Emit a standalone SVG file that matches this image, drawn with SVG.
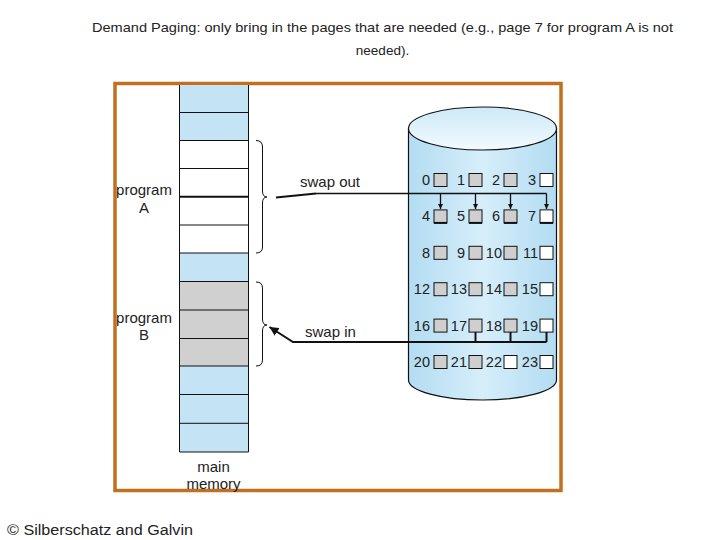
<svg xmlns="http://www.w3.org/2000/svg" width="720" height="540" viewBox="0 0 720 540">
<defs>
<style>
.t{font-family:"Liberation Sans",Arial,sans-serif;font-size:15px;fill:#222}
.n{font-family:"Liberation Sans",Arial,sans-serif;font-size:14.5px;fill:#222;text-anchor:end}
.g{fill:#cfcfcf;stroke:#111;stroke-width:1}
.w{fill:#fff;stroke:#111;stroke-width:1}
.ln{fill:none;stroke:#111}
.mem{stroke:#111;stroke-width:1}
</style>
<linearGradient id="cyl" x1="0" y1="0" x2="1" y2="0">
<stop offset="0" stop-color="#b3dcf2"/>
<stop offset="0.5" stop-color="#d6eefa"/>
<stop offset="1" stop-color="#b3dcf2"/>
</linearGradient>
<linearGradient id="top" x1="0" y1="0" x2="0" y2="1">
<stop offset="0" stop-color="#cde9f8"/>
<stop offset="1" stop-color="#f2fafe"/>
</linearGradient>
<marker id="ah" viewBox="0 0 10 10" refX="10" refY="5" markerWidth="5" markerHeight="5" orient="auto" markerUnits="userSpaceOnUse">
<path d="M0,0 L10,5 L0,10 z" fill="#111"/>
</marker>
<marker id="ah2" viewBox="0 0 10 10" refX="10" refY="5" markerWidth="4.5" markerHeight="4.5" orient="auto">
<path d="M0,0 L10,5 L0,10 z" fill="#111"/>
</marker>
</defs>

<g id="title">
<text class="t" x="382.5" y="32" text-anchor="middle" style="font-size:13.5px" textLength="581" lengthAdjust="spacingAndGlyphs">Demand Paging: only bring in the pages that are needed (e.g., page 7 for program A is not</text>
<text class="t" x="382.5" y="55" text-anchor="middle" style="font-size:13.5px">needed).</text>
</g>

<g id="frame">
<rect x="115" y="83.5" width="446" height="407" fill="#fff" stroke="#c0701f" stroke-width="3.5"/>
</g>

<g id="main-memory">
<rect x="179.5" y="85" width="69" height="55.5" fill="#c4e4f6"/>
<rect x="179.5" y="140.5" width="69" height="112.5" fill="#fff"/>
<rect x="179.5" y="253" width="69" height="28.5" fill="#c4e4f6"/>
<rect x="179.5" y="281.5" width="69" height="84.5" fill="#d0d0d0"/>
<rect x="179.5" y="366" width="69" height="86" fill="#c4e4f6"/>
<line class="mem" x1="179.5" y1="85" x2="179.5" y2="452"/>
<line class="mem" x1="248.5" y1="85" x2="248.5" y2="452"/>
<g class="mem">
<line x1="179.5" y1="112.5" x2="248.5" y2="112.5"/>
<line x1="179.5" y1="140.5" x2="248.5" y2="140.5"/>
<line x1="179.5" y1="168.5" x2="248.5" y2="168.5"/>
<line x1="179.5" y1="196.8" x2="248.5" y2="196.8" stroke-width="2"/>
<line x1="179.5" y1="225" x2="248.5" y2="225"/>
<line x1="179.5" y1="253" x2="248.5" y2="253"/>
<line x1="179.5" y1="281.5" x2="248.5" y2="281.5"/>
<line x1="179.5" y1="310" x2="248.5" y2="310"/>
<line x1="179.5" y1="338.5" x2="248.5" y2="338.5"/>
<line x1="179.5" y1="366" x2="248.5" y2="366"/>
<line x1="179.5" y1="394.5" x2="248.5" y2="394.5"/>
<line x1="179.5" y1="423.3" x2="248.5" y2="423.3"/>
<line x1="179.5" y1="452" x2="248.5" y2="452"/>
</g>
<text class="t" x="213.5" y="472" text-anchor="middle">main</text>
<text class="t" x="213.5" y="488.5" text-anchor="middle">memory</text>
</g>

<g id="program-A">
<text class="t" x="144" y="195" text-anchor="middle">program</text>
<text class="t" x="144" y="213" text-anchor="middle">A</text>
<path class="ln" d="M256,140.5 Q262.5,140.5 262.5,147 L262.5,191 Q262.5,197 267,197 Q262.5,197 262.5,203 L262.5,247 Q262.5,253 256,253"/>
</g>

<g id="program-B">
<text class="t" x="144" y="323" text-anchor="middle">program</text>
<text class="t" x="144" y="340" text-anchor="middle">B</text>
<path class="ln" d="M256,282 Q262.5,282 262.5,288 L262.5,319 Q262.5,325 267,325 Q262.5,325 262.5,331 L262.5,360 Q262.5,366 256,366"/>
</g>

<g id="backing-store">
<path d="M408.5,128.5 L408.5,380 A74,20 0 0 0 556.5,380 L556.5,128.5 Z" fill="url(#cyl)" stroke="#111" stroke-width="1.2"/>
<ellipse cx="482.5" cy="128.5" rx="74" ry="21.5" fill="url(#top)" stroke="#111" stroke-width="1.2"/>
</g>

<g id="pages">
<rect class="g" x="434" y="173.5" width="13" height="13"/><text class="n" x="430" y="185">0</text>
<rect class="g" x="469" y="173.5" width="13" height="13"/><text class="n" x="465" y="185">1</text>
<rect class="g" x="504" y="173.5" width="13" height="13"/><text class="n" x="500" y="185">2</text>
<rect class="w" x="540" y="173.5" width="13" height="13"/><text class="n" x="536" y="185">3</text>

<rect class="g" x="434" y="209.9" width="13" height="13"/><text class="n" x="430" y="221.4">4</text>
<rect class="g" x="469" y="209.9" width="13" height="13"/><text class="n" x="465" y="221.4">5</text>
<rect class="g" x="504" y="209.9" width="13" height="13"/><text class="n" x="500" y="221.4">6</text>
<rect class="w" x="540" y="209.9" width="13" height="13"/><text class="n" x="536" y="221.4">7</text>
<g stroke="#111" stroke-width="2">
<line x1="434" y1="222.9" x2="447" y2="222.9"/>
<line x1="469" y1="222.9" x2="482" y2="222.9"/>
<line x1="504" y1="222.9" x2="517" y2="222.9"/>
<line x1="540" y1="222.9" x2="553" y2="222.9"/>
</g>

<rect class="g" x="434" y="246.3" width="13" height="13"/><text class="n" x="430" y="257.8">8</text>
<rect class="g" x="469" y="246.3" width="13" height="13"/><text class="n" x="465" y="257.8">9</text>
<rect class="g" x="504" y="246.3" width="13" height="13"/><text class="n" x="502" y="257.8">10</text>
<rect class="w" x="540" y="246.3" width="13" height="13"/><text class="n" x="538" y="257.8">11</text>

<rect class="g" x="434" y="282.7" width="13" height="13"/><text class="n" x="430" y="294.2">12</text>
<rect class="g" x="469" y="282.7" width="13" height="13"/><text class="n" x="467" y="294.2">13</text>
<rect class="g" x="504" y="282.7" width="13" height="13"/><text class="n" x="502" y="294.2">14</text>
<rect class="w" x="540" y="282.7" width="13" height="13"/><text class="n" x="538" y="294.2">15</text>

<rect class="g" x="434" y="319.1" width="13" height="13"/><text class="n" x="430" y="330.6">16</text>
<rect class="g" x="469" y="319.1" width="13" height="13"/><text class="n" x="467" y="330.6">17</text>
<rect class="g" x="504" y="319.1" width="13" height="13"/><text class="n" x="502" y="330.6">18</text>
<rect class="w" x="540" y="319.1" width="13" height="13"/><text class="n" x="538" y="330.6">19</text>

<rect class="g" x="434" y="355.5" width="13" height="13"/><text class="n" x="430" y="367">20</text>
<rect class="g" x="469" y="355.5" width="13" height="13"/><text class="n" x="467" y="367">21</text>
<rect class="w" x="504" y="355.5" width="13" height="13"/><text class="n" x="502" y="367">22</text>
<rect class="w" x="540" y="355.5" width="13" height="13"/><text class="n" x="538" y="367">23</text>
</g>

<g id="connectors">
<path class="ln" d="M276,197.5 L316,193.5" stroke-width="2"/>
<path class="ln" d="M316,193.5 L546.5,193.5" stroke-width="1.3"/>
<g class="ln" stroke-width="1.3">
<line x1="440.5" y1="193.5" x2="440.5" y2="209" marker-end="url(#ah)"/>
<line x1="475.5" y1="193.5" x2="475.5" y2="209" marker-end="url(#ah)"/>
<line x1="510.5" y1="193.5" x2="510.5" y2="209" marker-end="url(#ah)"/>
<line x1="546.5" y1="193.5" x2="546.5" y2="209" marker-end="url(#ah)"/>
</g>
<g class="ln" stroke-width="2">
<line x1="475.5" y1="332" x2="475.5" y2="342"/>
<line x1="510.5" y1="332" x2="510.5" y2="342"/>
<line x1="546.5" y1="332" x2="546.5" y2="342"/>
<path d="M546.5,342 L293,342 L269.5,327" marker-end="url(#ah2)"/>
</g>
<text class="t" x="300" y="187">swap out</text>
<text class="t" x="305" y="337">swap in</text>
</g>

<g id="credit">
<text class="t" x="7" y="535" style="font-size:15.5px" textLength="186" lengthAdjust="spacingAndGlyphs">© Silberschatz and Galvin</text>
</g>
</svg>
